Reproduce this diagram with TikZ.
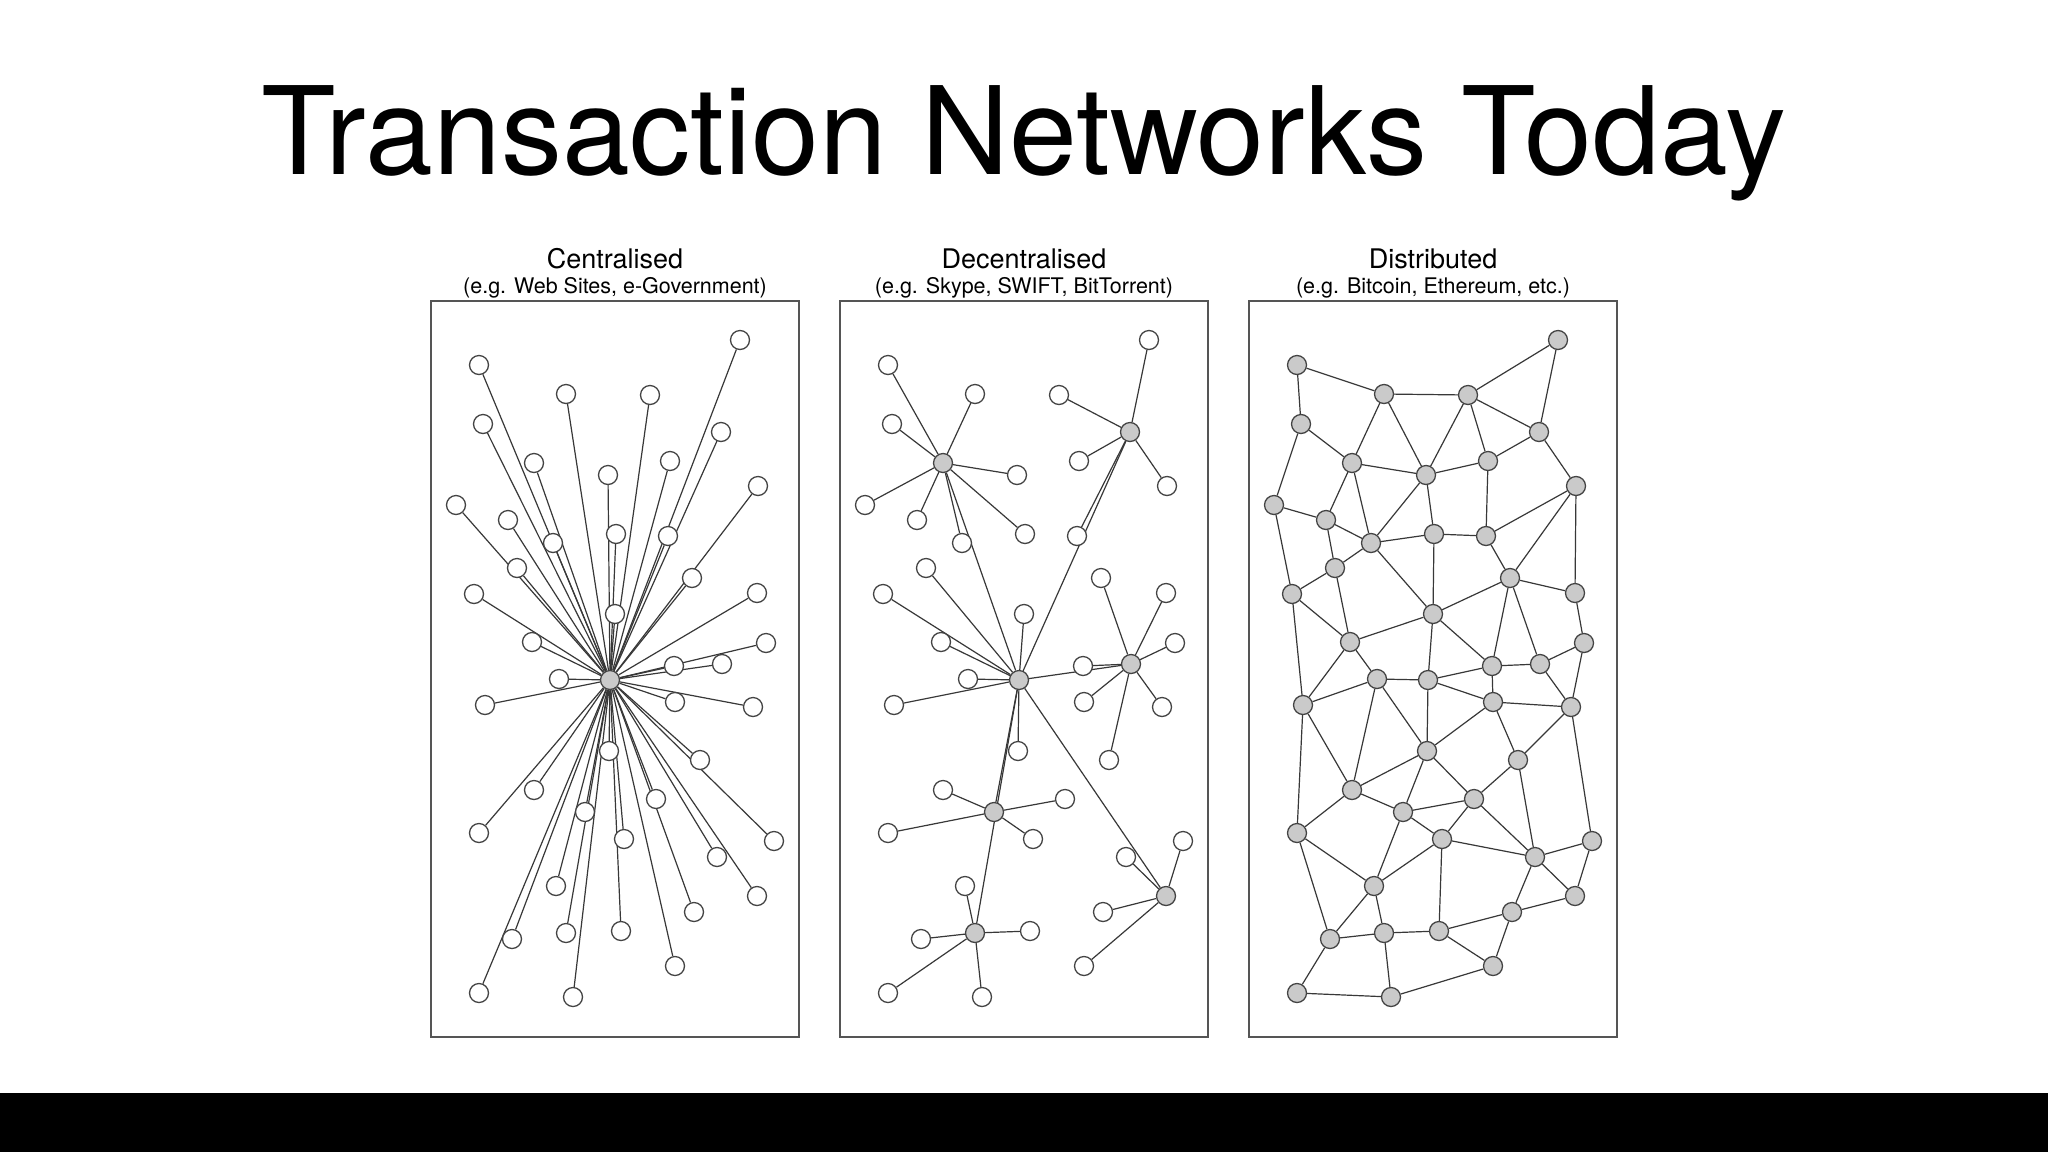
\documentclass[tikz,border=0pt]{standalone}
\usepackage{fontspec}
\setmainfont{TeX Gyre Heros}
\definecolor{edgecol}{HTML}{383838}
\definecolor{ndline}{HTML}{444444}
\definecolor{hubfill}{HTML}{CACACA}
\definecolor{boxcol}{HTML}{555555}
\pgfdeclarelayer{bgzero}
\pgfdeclarelayer{edges}
\pgfsetlayers{bgzero,edges,main}
\def\ptsA{1/740/340,2/479/365,3/566/394,4/650/395,5/483/424,8/670/461,9/608/475,10/758/486,11/456/505,12/508/520,13/616/534,14/668/536,15/553/543,16/517/568,17/692/578,18/474/594,19/615/614,20/757/593,21/532/642,22/766/643,23/674/666,25/559/679,28/485/705,29/675/702,30/753/707,31/609/751,32/700/760,33/534/790,34/656/799,36/479/833,37/774/841,38/624/839,39/717/857,40/556/886,42/694/912,43/512/939,45/621/931,46/675/966,47/479/993,48/573/997}
\def\ptsB{6/721/432,7/534/463,24/722/664,35/585/812,41/757/896,44/566/933}
\def\ptsC{c/610/680}
\begin{document}
\begin{tikzpicture}[x=1pt,y=-1pt,
  nd/.style={circle,draw=ndline,line width=1.3pt,fill=white,minimum size=19pt,inner sep=0pt},
  hub/.style={nd,fill=hubfill},
  edge/.style={draw=edgecol,line width=1.2pt},
  panelbox/.style={draw=boxcol,line width=1.6pt},
  hdtext/.style={anchor=base,font=\fontsize{27}{30}\selectfont},
  subtext/.style={anchor=base,font=\fontsize{21.5}{24}\selectfont}]
\begin{pgfonlayer}{bgzero}
\fill[white] (0,0) rectangle (2048,1152);
\end{pgfonlayer}
\useasboundingbox (0,0) rectangle (2048,1152);
\fill[black] (0,1093) rectangle (2048,1152);
\node[anchor=base,font=\fontsize{122}{130}\selectfont] (title) at (1024,174) {Transaction Networks Today};

% headers
\node[hdtext] (h1) at (615,268) {Centralised};
\node[subtext] (s1) at (615,293) {(e.g. Web Sites, e-Government)};
\node[hdtext] (h2) at (1024,268) {Decentralised};
\node[subtext] (s2) at (1024,293) {(e.g. Skype, SWIFT, BitTorrent)};
\node[hdtext] (h3) at (1433,268) {Distributed};
\node[subtext] (s3) at (1433,293) {(e.g. Bitcoin, Ethereum, etc.)};

% boxes
\draw[panelbox] (431,301) rectangle (799,1037);
\draw[panelbox] (840,301) rectangle (1208,1037);
\draw[panelbox] (1249,301) rectangle (1617,1037);

% panel 1: centralised
\foreach \n/\x/\y in \ptsA {\node[nd] (a\n) at (\x,\y) {};}
\foreach \n/\x/\y in \ptsB {\node[nd] (a\n) at (\x,\y) {};}
\foreach \n/\x/\y in \ptsC {\node[hub] (a\n) at (\x,\y) {};}
\begin{pgfonlayer}{edges}
\foreach \n/\x/\y in \ptsA {\draw[edge] (a\n) -- (ac);}
\foreach \n/\x/\y in \ptsB {\draw[edge] (a\n) -- (ac);}
\end{pgfonlayer}

% panel 2: decentralised
\begin{scope}[xshift=409pt]
\foreach \n/\x/\y in \ptsA {\node[nd] (b\n) at (\x,\y) {};}
\foreach \n/\x/\y in \ptsB {\node[hub] (b\n) at (\x,\y) {};}
\foreach \n/\x/\y in \ptsC {\node[hub] (b\n) at (\x,\y) {};}
\end{scope}
\begin{pgfonlayer}{edges}
\foreach \h/\l in {7/{2,3,5,9,11,12,13,15,c},6/{1,4,8,10,14,c},c/{16,18,19,21,25,28,31,35,44,41,24},24/{17,20,22,23,29,30,32},35/{33,34,36,38},41/{37,39,42,46},44/{40,43,45,47,48}}
  {\foreach \m in \l {\draw[edge] (b\h) -- (b\m);}}
\end{pgfonlayer}

% panel 3: distributed
\begin{scope}[xshift=818pt]
\foreach \n/\x/\y in \ptsA {\node[hub] (d\n) at (\x,\y) {};}
\foreach \n/\x/\y in \ptsB {\node[hub] (d\n) at (\x,\y) {};}
\foreach \n/\x/\y in \ptsC {\node[hub] (d\n) at (\x,\y) {};}
\end{scope}
\begin{pgfonlayer}{edges}
\foreach \u/\v in {2/3,2/5,3/4,4/1,1/6,4/6,3/7,3/9,4/9,4/8,6/8,6/10,5/7,5/11,7/9,9/8,7/12,7/15,9/15,9/13,8/14,10/14,10/17,10/20,11/12,11/18,12/15,12/16,15/13,15/16,15/19,13/19,13/14,14/17,16/18,16/21,17/19,17/20,17/23,17/24,18/21,18/28,19/21,19/23,19/c,20/22,22/24,23/24,21/25,21/28,23/c,23/29,24/30,22/30,28/25,25/c,25/31,25/33,c/31,c/29,29/30,29/31,29/32,30/32,30/37,28/33,28/36,31/33,31/35,31/34,32/34,32/39,33/35,33/36,34/35,34/38,34/39,35/38,35/40,36/40,36/43,38/40,38/39,38/45,39/37,39/41,39/42,37/41,41/42,40/43,40/44,43/44,43/47,44/45,44/48,45/42,45/46,42/46,47/48,48/46}
  {\draw[edge] (d\u) -- (d\v);}
\end{pgfonlayer}
\end{tikzpicture}
\end{document}
